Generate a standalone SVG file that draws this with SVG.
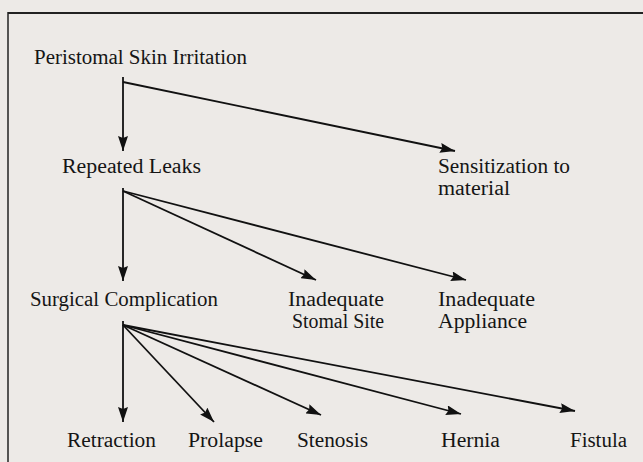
<svg xmlns="http://www.w3.org/2000/svg" width="643" height="462" viewBox="0 0 643 462">
<defs>
<style>
.t{font-family:"Liberation Serif","Times New Roman",serif;font-size:20px;fill:#151515}
.c{stroke:#111;stroke-width:1.8;fill:none}
</style>
<marker id="ah" viewBox="0 0 15 10" refX="15" refY="5" markerWidth="15" markerHeight="10" markerUnits="userSpaceOnUse" orient="auto">
<path d="M0,0 L15,5 L0,10 L2,5 z" fill="#111"/>
</marker>
</defs>
<rect x="0" y="0" width="643" height="462" fill="#edeae7"/>
<g id="frame">
<line x1="8" y1="13" x2="643" y2="13" stroke="#222" stroke-width="2"/>
<line x1="8" y1="12" x2="8" y2="462" stroke="#222" stroke-width="1.5"/>
</g>
<g id="connectors">
<line class="c" x1="123" y1="77" x2="123" y2="151" marker-end="url(#ah)"/>
<line class="c" x1="123" y1="82" x2="455" y2="151" marker-end="url(#ah)"/>
<line class="c" x1="123" y1="188" x2="123" y2="281" marker-end="url(#ah)"/>
<line class="c" x1="123" y1="191" x2="316" y2="280" marker-end="url(#ah)"/>
<line class="c" x1="123" y1="191" x2="466" y2="280" marker-end="url(#ah)"/>
<line class="c" x1="123" y1="321" x2="123" y2="422" marker-end="url(#ah)"/>
<line class="c" x1="123" y1="325" x2="214" y2="422" marker-end="url(#ah)"/>
<line class="c" x1="123" y1="325" x2="321" y2="415" marker-end="url(#ah)"/>
<line class="c" x1="123" y1="325" x2="461" y2="414" marker-end="url(#ah)"/>
<line class="c" x1="123" y1="325" x2="575" y2="411" marker-end="url(#ah)"/>
</g>
<g id="n-peristomal"><text class="t" x="34" y="64" textLength="213" lengthAdjust="spacingAndGlyphs">Peristomal Skin Irritation</text></g>
<g id="n-leaks"><text class="t" x="62" y="173" textLength="139" lengthAdjust="spacingAndGlyphs">Repeated Leaks</text></g>
<g id="n-sensitization"><text class="t" x="438" y="173" textLength="132" lengthAdjust="spacingAndGlyphs">Sensitization to</text><text class="t" x="438" y="195" textLength="72" lengthAdjust="spacingAndGlyphs">material</text></g>
<g id="n-surgical"><text class="t" x="30" y="306" textLength="188" lengthAdjust="spacingAndGlyphs">Surgical Complication</text></g>
<g id="n-stomal"><text class="t" x="288" y="306" textLength="96" lengthAdjust="spacingAndGlyphs">Inadequate</text><text class="t" x="292" y="328" textLength="92" lengthAdjust="spacingAndGlyphs">Stomal Site</text></g>
<g id="n-appliance"><text class="t" x="438" y="306" textLength="97" lengthAdjust="spacingAndGlyphs">Inadequate</text><text class="t" x="438" y="328" textLength="89" lengthAdjust="spacingAndGlyphs">Appliance</text></g>
<g id="n-retraction"><text class="t" x="67" y="447" textLength="89" lengthAdjust="spacingAndGlyphs">Retraction</text></g>
<g id="n-prolapse"><text class="t" x="188" y="447" textLength="75" lengthAdjust="spacingAndGlyphs">Prolapse</text></g>
<g id="n-stenosis"><text class="t" x="297" y="447" textLength="71" lengthAdjust="spacingAndGlyphs">Stenosis</text></g>
<g id="n-hernia"><text class="t" x="441" y="447" textLength="59" lengthAdjust="spacingAndGlyphs">Hernia</text></g>
<g id="n-fistula"><text class="t" x="570" y="447" textLength="57" lengthAdjust="spacingAndGlyphs">Fistula</text></g>
</svg>
